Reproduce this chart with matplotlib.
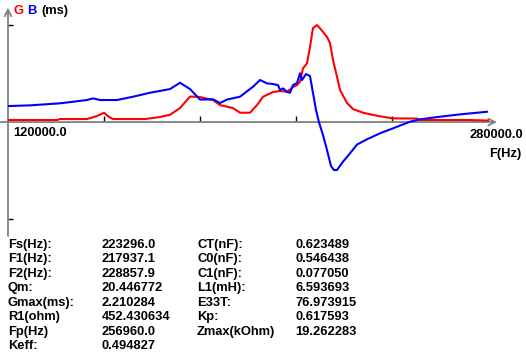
import matplotlib
matplotlib.use("Agg")
import matplotlib.pyplot as plt

# frequency sweep (Hz) and normalised G / B readings
freq_g = [120333, 136333, 137333, 146333, 149667, 152000, 153667, 155000, 165667,
          170667, 174000, 177333, 179333, 180667, 184000, 188333, 190667, 195000,
          197333, 200667, 203000, 205000, 208333, 210667, 213000, 215000, 216333,
          217333, 218333, 219667, 220667, 221667, 223000, 224000, 226333, 227333,
          228333, 229667, 230667, 233000, 235000, 238333, 244000, 248333, 256333,
          257333, 274000, 280000]
g_vals = [0.021, 0.021, 0.031, 0.031, 0.062, 0.096, 0.052, 0.031, 0.031,
          0.052, 0.075, 0.144, 0.216, 0.263, 0.258, 0.227, 0.175, 0.144,
          0.096, 0.096, 0.175, 0.261, 0.309, 0.320, 0.312, 0.361, 0.381,
          0.415, 0.554, 0.605, 0.776, 0.969, 1.000, 0.966, 0.879, 0.814,
          0.639, 0.467, 0.330, 0.196, 0.134, 0.096, 0.059, 0.038, 0.036,
          0.021, 0.021, 0.015]

freq_b = [120333, 127333, 137333, 146333, 148333, 150667, 156333, 161667, 167333,
          174000, 177333, 180667, 184000, 188333, 190667, 193000, 197333, 201667,
          204000, 206333, 208333, 210000, 210667, 211667, 213000, 214000, 215000,
          216333, 217333, 218000, 219333, 220667, 221667, 222667, 223667, 225000,
          226333, 227667, 228667, 229667, 231667, 234000, 236333, 239667, 244000,
          248333, 254000, 257333, 264000, 270667, 279667]
b_vals = [0.165, 0.172, 0.193, 0.227, 0.244, 0.227, 0.227, 0.261, 0.302,
          0.340, 0.405, 0.340, 0.232, 0.234, 0.196, 0.232, 0.261, 0.364,
          0.433, 0.399, 0.392, 0.381, 0.330, 0.347, 0.312, 0.302, 0.381,
          0.402, 0.502, 0.433, 0.495, 0.474, 0.299, 0.124, -0.003, -0.134,
          -0.289, -0.454, -0.495, -0.495, -0.409, -0.323, -0.232, -0.178, -0.116,
          -0.065, 0.003, 0.028, 0.055, 0.079, 0.106]

x_ticks = [152000, 184000, 216000, 248000]
y_ticks = [1.0, -1.0]

# result table
names_1 = ["Fs(Hz):", "F1(Hz):", "F2(Hz):", "Qm:", "Gmax(ms):", "R1(ohm)", "Fp(Hz)", "Keff:"]
values_1 = ["223296.0", "217937.1", "228857.9", "20.446772", "2.210284", "452.430634",
            "256960.0", "0.494827"]
names_2 = ["CT(nF):", "C0(nF):", "C1(nF):", "L1(mH):", "E33T:", "Kp:", "Zmax(kOhm)"]
values_2 = ["0.623489", "0.546438", "0.077050", "6.593693", "76.973915", "0.617593",
            "19.262283"]

W, H = 526, 361
fig = plt.figure(figsize=(W / 100, H / 100), dpi=100)
ax = fig.add_axes([8 / W, (H - 236) / H, 480 / W, 228.4 / H])
ax.set_xlim(120000, 280000)
ax.set_ylim(-1.175, 1.18)

ax.plot(freq_g, g_vals, color="#ff0000", lw=1.5, clip_on=False, zorder=3)
ax.plot(freq_b, b_vals, color="#0000ff", lw=1.5, clip_on=False, zorder=3)

for s in ax.spines.values():
    s.set_visible(False)
ax.spines["bottom"].set_position(("data", 0))
ax.set_xticks(x_ticks)
ax.set_yticks(y_ticks)
ax.set_xticklabels([])
ax.set_yticklabels([])
ax.tick_params(axis="x", direction="in", length=4, width=1, color="black")
ax.tick_params(axis="y", direction="in", length=3.5, width=1, color="black")

axis_col = "#808080"
ax.annotate("", xy=(283000, 0), xytext=(117300, 0), annotation_clip=False,
            arrowprops=dict(arrowstyle="->", color=axis_col, lw=1.3,
                            mutation_scale=12, shrinkA=0, shrinkB=0), zorder=2)
ax.annotate("", xy=(120000, 1.18), xytext=(120000, -1.175), annotation_clip=False,
            arrowprops=dict(arrowstyle="->", color=axis_col, lw=1.3,
                            mutation_scale=12, shrinkA=0, shrinkB=0), zorder=2)

font = dict(family="Liberation Sans", weight="bold", size=9.3)

def put(x, y, s, **kw):
    fig.text(x / W, 1 - y / H, s, va="center", **{**font, **kw})

put(13, 11, "G", color="#ff0000")
put(27, 11, "B", color="#0000ff")
put(41, 11, "(ms)", color="black")
put(13, 133, "120000.0")
put(469, 135, "280000.0")
put(489, 154, "F(Hz)")

row_y = 245
row_h = 14.47
for i, (n, v) in enumerate(zip(names_1, values_1)):
    put(8, row_y + i * row_h, n)
    put(102, row_y + i * row_h, v)
for i, (n, v) in enumerate(zip(names_2, values_2)):
    put(197, row_y + i * row_h, n)
    put(295, row_y + i * row_h, v)

fig.savefig("out.png", dpi=100)
